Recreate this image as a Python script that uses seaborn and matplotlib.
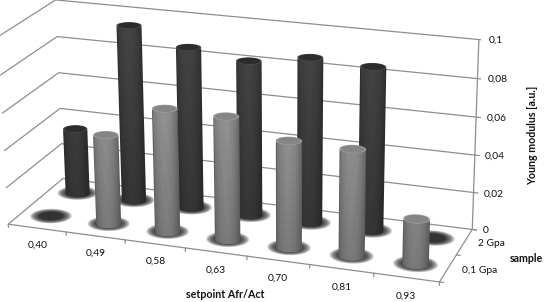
import numpy as np
import matplotlib
matplotlib.use("Agg")
import matplotlib.pyplot as plt
import seaborn as sns
from mpl_toolkits.mplot3d import proj3d
from mpl_toolkits.mplot3d.art3d import Poly3DCollection

# Data
setpoints = ["0,40", "0,49", "0,58", "0,63", "0,70", "0,81", "0,93"]
samples = ["0,1 Gpa", "2 Gpa"]
young_01gpa = [0, 0.048, 0.0655, 0.065, 0.056, 0.0555, 0.0235]
young_2gpa = [0.036, 0.0955, 0.087, 0.083, 0.088, 0.0865, 0]
z_ticks = [0, 0.02, 0.04, 0.06, 0.08, 0.1]
z_labels = ["0", "0,02", "0,04", "0,06", "0,08", "0,1"]

sns.set_theme(style="white")
plt.rcParams["font.family"] = ["Lato", "DejaVu Sans"]
bar_colors = sns.color_palette(["#a0a0a0", "#464646"])
edge_colors = sns.color_palette(["#5c5c5c", "#2c2c2c"])
cap_colors = sns.color_palette(["#858585", "#2c2c2c"])
rim_colors = sns.color_palette(["#9a9a9a", "#404040"])
grid_color = "#8e8e8e"
text_color = "#111111"
azim = -70.3
rx, ry = 0.2, 0.17

fig = plt.figure(figsize=(5.45, 3.02), dpi=100)
ax = fig.add_axes([-0.0328, -0.2914, 0.9147, 1.6507], projection="3d", computed_zorder=False)
ax.view_init(20.0, azim, 0.51)
ax.set_proj_type("persp", focal_length=0.737)
ax.set_box_aspect((3.379, 1.014, 1.5))
ax.set_xlim(0, 7, view_margin=0)
ax.set_ylim(0, 2, view_margin=0)
ax.set_zlim(0, 0.1, view_margin=0)
ax.set_axis_off()
M = ax.get_proj()


def line(xs, ys, zs, lw=0.9):
    ax.plot(xs, ys, zs, color=grid_color, lw=lw, zorder=1)


def label(x, y, z, s, ha):
    # place the label at the projected point of the 3d scale
    px, py, _ = proj3d.proj_transform(x, y, z, M)
    ax.text2D(px, py, s, transform=ax.transData, fontsize=7.4, color=text_color, ha=ha, va="center")


def disc(cx, cy, h, scale, color, zorder):
    theta = np.linspace(0, 2 * np.pi, 60)
    verts = list(zip(cx + scale * rx * np.cos(theta), cy + scale * ry * np.sin(theta), np.full(60, h)))
    ax.add_collection3d(Poly3DCollection([verts], facecolor=color, edgecolor="none", zorder=zorder))


# walls and floor
for z in z_ticks:
    line([0, 0, 7], [0, 2, 2], [z, z, z])
    line([7, 7.07], [2, 2], [z, z])
line([0, 7, 7], [0, 0, 2], [0, 0, 0])
line([7, 7], [2, 2], [0, 0.1])
for i in range(len(setpoints) + 1):
    line([i, i], [0, 0], [0, -0.0018])
for j in range(len(samples) + 1):
    line([7, 7.06], [j, j], [0, 0])


def cylinder(cx, cy, h, j, zorder):
    # soft shadow on the floor
    for scale in np.linspace(1.7, 1.05, 10):
        disc(cx, cy, 0, scale, (0.1, 0.1, 0.1, 0.15), 2)
    if h == 0:
        disc(cx, cy, 0, 1, "#333333", zorder)
        return
    # only the arc that faces the camera, from silhouette to silhouette
    arc = np.radians(np.linspace(azim - 180, azim + 180, 361))
    px = proj3d.proj_transform(cx + rx * np.cos(arc), cy + ry * np.sin(arc), np.zeros(361), M)[0]
    i0, i1 = sorted([np.argmin(px), np.argmax(px)])
    arc = arc[i0:i1 + 1]
    px = np.asarray(px[i0:i1 + 1])
    xs, ys = cx + rx * np.cos(arc), cy + ry * np.sin(arc)
    # one solid body first, so the outline stays clean at this small size
    body = list(zip(xs, ys, np.zeros(len(arc)))) + list(zip(xs[::-1], ys[::-1], np.full(len(arc), h)))
    ax.add_collection3d(Poly3DCollection([body], facecolor=edge_colors[j], edgecolor="none", zorder=zorder))
    # shaded strips inside the outline
    u = (px - px[0]) / (px[-1] - px[0]) * 2 - 1
    tt, zg = np.meshgrid(arc[25:-25], np.linspace(0, h, 14))
    uu = np.tile(u[25:-25], (14, 1))
    light = (0.72 + 0.28 * (1 - (uu + 0.1) ** 2)) * (0.78 + 0.24 * zg / 0.1)
    rgb = np.clip(np.array(bar_colors[j])[None, None, :] * light[..., None], 0, 1)
    face = np.dstack([rgb, np.ones(light.shape)])
    ax.plot_surface(cx + rx * np.cos(tt), cy + ry * np.sin(tt), zg, facecolors=face, rstride=1, cstride=4,
                    shade=False, linewidth=0.3, antialiased=True, zorder=zorder + 0.1)
    disc(cx, cy, h, 1, rim_colors[j], zorder + 0.4)
    disc(cx, cy, h, 0.86, cap_colors[j], zorder + 0.5)


# back row first, then the front row on top
for j, values in reversed(list(enumerate([young_01gpa, young_2gpa]))):
    for i, v in enumerate(values):
        cylinder(i + 0.5, j + 0.5, v, j, 3 + (1 - j) * 2)

# labels
for i, lab in enumerate(setpoints):
    label(i + 0.5, 0, -0.0095, lab, "center")
for z, lab in zip(z_ticks, z_labels):
    label(7.16, 2, z, lab, "left")
for j, lab in enumerate(samples):
    label(7.22, j + 0.5, 0, lab, "left")
fig.text(225 / 545, 1 - 295 / 302, "setpoint Afr/Act", fontsize=7.7, fontweight="bold",
         color=text_color, ha="center", va="center")
fig.text(526 / 545, 1 - 259 / 302, "sample", fontsize=7.7, fontweight="bold",
         color=text_color, ha="center", va="center")
fig.text(533 / 545, 1 - 135 / 302, "Young modulus [a.u.]", fontsize=7.7, fontweight="bold",
         color=text_color, ha="center", va="center", rotation=90)

fig.savefig("out.png", dpi=100)
